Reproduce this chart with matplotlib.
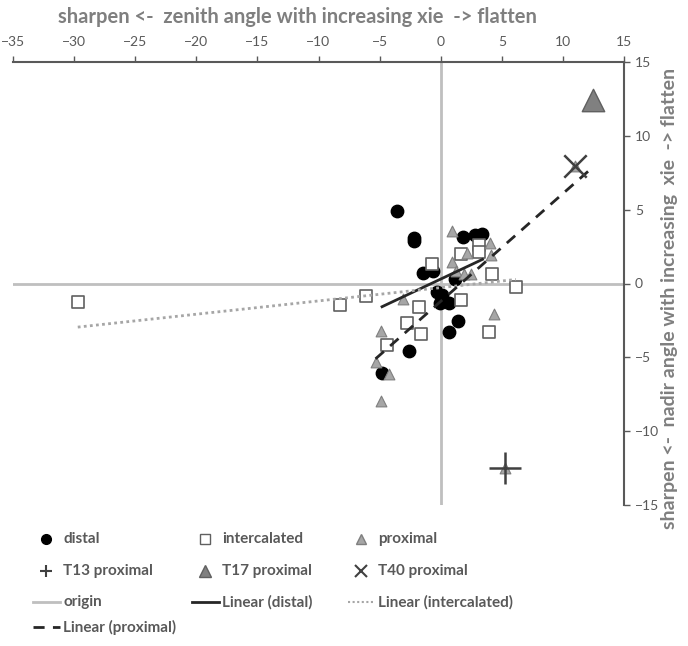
import numpy as np
import matplotlib.pyplot as plt
from matplotlib.lines import Line2D

# --- data ---
distal_x = [-3.55, -2.2, -2.15, 1.8, 2.77, 3.42, -1.45, -0.6, 1.2,
            -0.27, 0.14, -0.05, 0.7, 1.42, 0.68, -2.6, -4.8]
distal_y = [4.88, 3.1, 2.85, 3.17, 3.3, 3.37, 0.7, 0.85, 0.28,
            -0.59, -0.81, -1.33, -1.3, -2.55, -3.3, -4.54, -6.05]

intercalated_x = [-29.7, -8.25, -6.1, -0.68, 1.64, 3.14, 3.14, 4.23, 6.15,
                  1.64, -1.78, -2.73, -1.58, 3.96, -4.43]
intercalated_y = [-1.22, -1.45, -0.88, 1.33, 2.01, 2.64, 2.12, 0.66, -0.25,
                  -1.15, -1.56, -2.69, -3.41, -3.3, -4.14]

proximal_x = [0.96, 4.04, 2.13, 4.15, 0.96, 1.23, 1.91, 2.46, -3.06, 4.37,
              -4.92, -5.33, -4.24, -4.86, 5.27, 10.98, 12.43]
proximal_y = [3.55, 2.73, 2.06, 1.9, 1.45, 0.88, 0.66, 0.61, -1.04, -2.06,
              -3.19, -5.33, -6.12, -7.93, -12.52, 7.93, 12.45]

t13_x, t13_y = [5.27], [-12.52]
t17_x, t17_y = [12.43], [12.45]
t40_x, t40_y = [10.98], [7.93]

origin_h_x, origin_h_y = [-35, 15], [0, 0]
origin_v_x, origin_v_y = [0, 0], [-15, 15]

# linear trendlines (slope, intercept)
fit_distal = (0.39, 0.30)
fit_intercalated = (0.09, -0.28)
fit_proximal = (0.73, -1.21)

x_ticks = [-35, -30, -25, -20, -15, -10, -5, 0, 5, 10, 15]
y_ticks = [-15, -10, -5, 0, 5, 10, 15]

plt.rcParams['font.family'] = ['Lato', 'DejaVu Sans']

dark = '#595959'
W, H = 688, 646
fig = plt.figure(figsize=(W / 100, H / 100), dpi=100)
ax = fig.add_axes([13 / W, 1 - 505 / H, (624 - 13) / W, (505 - 62) / H])

ax.plot(origin_h_x, origin_h_y, color='#bfbfbf', lw=2, zorder=1)
ax.plot(origin_v_x, origin_v_y, color='#bfbfbf', lw=2, zorder=1)


def trend(xs, fit):
    xx = np.array([min(xs), max(xs)])
    return xx, fit[0] * xx + fit[1]


ax.scatter(distal_x, distal_y, s=80, c='black', marker='o', zorder=3)
ax.scatter(intercalated_x, intercalated_y, s=70, facecolors='white',
           edgecolors='#606060', linewidths=1.2, marker='s', zorder=3)
ax.scatter(proximal_x, proximal_y, s=60, facecolors='#a6a6a6',
           edgecolors='#7f7f7f', linewidths=0.8, marker='^', zorder=3)

xx, yy = trend(distal_x, fit_distal)
ax.plot(xx, yy, color='#262626', lw=2, zorder=4)
xx, yy = trend(intercalated_x, fit_intercalated)
ax.plot(xx, yy, color='#a6a6a6', lw=2, ls=(0, (1, 1.2)), zorder=4)
xx, yy = trend(proximal_x, fit_proximal)
ax.plot(xx, yy, color='#262626', lw=2, ls=(0, (4, 3)), zorder=4)

ax.scatter(t13_x, t13_y, s=500, c='#404040', marker='+', linewidths=1.8, zorder=5)
ax.scatter(t17_x, t17_y, s=260, facecolors='#808080', edgecolors='#606060',
           linewidths=1, marker='^', zorder=5)
ax.scatter(t40_x, t40_y, s=260, c='#404040', marker='x', linewidths=1.8, zorder=5)

ax.set_xlim(-35, 15)
ax.set_ylim(-15, 15)
ax.set_xticks(x_ticks)
ax.set_yticks(y_ticks)
ax.xaxis.tick_top()
ax.yaxis.tick_right()
ax.spines['left'].set_visible(False)
ax.spines['bottom'].set_visible(False)
for s in ['top', 'right']:
    ax.spines[s].set_color(dark)
    ax.spines[s].set_linewidth(1.5)
ax.tick_params(direction='out', length=4, width=1, color=dark,
               labelcolor=dark, labelsize=10)
ax.tick_params(axis='x', pad=6)
ax.tick_params(axis='y', pad=4)
ax.set_facecolor('none')

fig.text(297 / W, 1 - 17 / H, 'sharpen <-  zenith angle with increasing xie  -> flatten',
         ha='center', va='center', color='#7f7f7f', fontsize=14.5, fontweight='bold')
fig.text(670 / W, 1 - 298 / H, 'sharpen <-  nadir angle with increasing  xie  -> flatten',
         ha='center', va='center', rotation=90, color='#7f7f7f', fontsize=14,
         fontweight='bold')

# legend drawn in figure pixel space
lax = fig.add_axes([0, 0, 1, 1])
lax.set_xlim(0, W)
lax.set_ylim(H, 0)
lax.axis('off')

entries = [
    (33, 539, 'distal', dict(marker='o', color='black', ms=7, ls='none')),
    (192, 539, 'intercalated', dict(marker='s', mfc='white', mec='#606060', ms=7, ls='none')),
    (348, 539, 'proximal', dict(marker='^', mfc='#a6a6a6', mec='#7f7f7f', ms=7, ls='none')),
    (33, 571, 'T13 proximal', dict(marker='+', color='#404040', ms=9, mew=1.5, ls='none')),
    (192, 571, 'T17 proximal', dict(marker='^', mfc='#808080', mec='#606060', ms=8, ls='none')),
    (348, 571, 'T40 proximal', dict(marker='x', color='#404040', ms=8, mew=1.5, ls='none')),
    (33, 602, 'origin', dict(color='#bfbfbf', lw=2)),
    (192, 602, 'Linear (distal)', dict(color='#262626', lw=2)),
    (348, 602, 'Linear (intercalated)', dict(color='#a6a6a6', lw=1.5, ls=(0, (1, 1.2)))),
    (33, 627, 'Linear (proximal)', dict(color='#262626', lw=2, ls=(0, (4, 3)))),
]
for x0, y0, label, style in entries:
    if style.get('ls') == 'none':
        lax.add_line(Line2D([x0 + 13], [y0], **style))
    else:
        lax.add_line(Line2D([x0, x0 + 27], [y0, y0], **style))
    lax.text(x0 + 30, y0, label, ha='left', va='center', color=dark,
             fontsize=11, fontweight='bold')

fig.savefig('out.png', dpi=100)
